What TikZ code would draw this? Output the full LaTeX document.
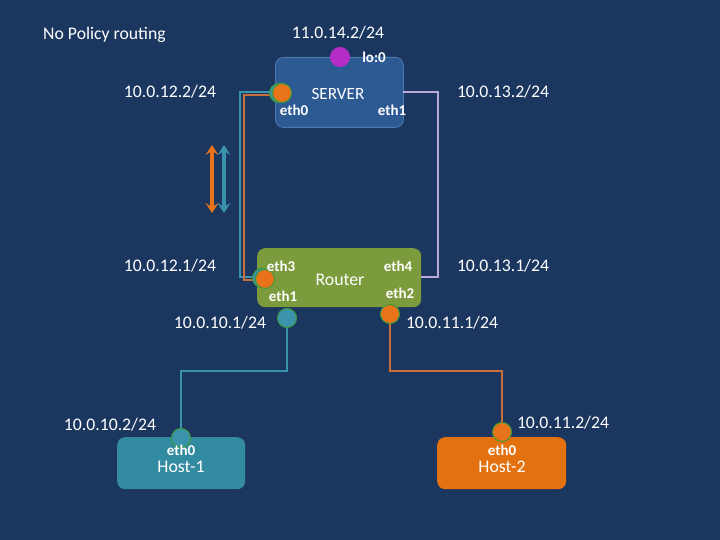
\documentclass[tikz,border=0pt]{standalone}
\usepackage{fontspec}
\setmainfont{Carlito}
\usetikzlibrary{arrows.meta}
\definecolor{bg}{HTML}{1B365F}
\definecolor{srvfill}{HTML}{2D5A93}
\definecolor{srvline}{HTML}{4C79B0}
\definecolor{rtr}{HTML}{7C9B3C}
\definecolor{hostA}{HTML}{338BA1}
\definecolor{hostB}{HTML}{E3710F}
\definecolor{tealc}{HTML}{3A92AD}
\definecolor{orng}{HTML}{E8731A}
\definecolor{orngline}{HTML}{C9703A}
\definecolor{lav}{HTML}{B9A9D6}
\definecolor{mag}{HTML}{B52CC4}
\definecolor{ring}{HTML}{3D9B3A}
\tikzset{
  boxs/.style={rounded corners=8pt, minimum width=#1, anchor=north west, inner sep=0pt},
  portc/.style={circle, minimum size=19pt, inner sep=0pt, draw=ring, line width=1pt},
  ipt/.style={text=white, font=\fontsize{17.7}{20}\selectfont, inner sep=0pt},
  lblt/.style={text=white, font=\bfseries\fontsize{15}{17}\selectfont, inner sep=0pt},
  nmt/.style={text=white, font=\fontsize{17.8}{20}\selectfont, inner sep=0pt},
  wire/.style={line width=1.8pt},
  dbl/.style={line width=3.2pt, {Stealth[length=10pt,width=13pt,inset=4pt]}-{Stealth[length=10pt,width=13pt,inset=4pt]}}
}
\begin{document}
\begin{tikzpicture}[x=1pt,y=-1pt]
\fill[bg] (0,0) rectangle (720,540);
\useasboundingbox (0,0) rectangle (720,540);

\node[ipt, anchor=west] (title) at (43,35) {No Policy routing};

% boxes
\node[boxs=128pt, minimum height=70pt, fill=srvfill, draw=srvline, line width=0.8pt] (srv) at (275,57) {};
\node[nmt, font=\fontsize{17.2}{19}\selectfont] (srvname) at (338,94) {SERVER};
\node[boxs=164pt, minimum height=59pt, fill=rtr] (rtr) at (257,248) {};
\node[nmt] (rtrname) at (340,280) {Router};
\node[boxs=128pt, minimum height=52pt, fill=hostA] (h1) at (117,437) {};
\node[nmt] (h1name) at (181,467) {Host-1};
\node[boxs=129pt, minimum height=52pt, fill=hostB] (h2) at (437,437) {};
\node[nmt] (h2name) at (502,467) {Host-2};

% wires
\coordinate (sA) at (272,92);
\coordinate (sB) at (274,95);
\coordinate (rA) at (258,277);
\coordinate (rB) at (262,280);
\draw[wire, tealc] (sA) -| (240,277) -- (rA);
\draw[wire, orngline] (sB) -| (244,280) -- (rB);
\coordinate (s1) at (403,92);
\coordinate (r4) at (421,277);
\draw[wire, lav] (s1) -| (438,277) -- (r4);

% ports
\node[portc, fill=mag, draw=mag] (lo) at (340,57) {};
\node[portc, fill=tealc] (seth0a) at (279,93) {};
\node[portc, fill=orng] (seth0b) at (282,93) {};
\node[portc, fill=tealc] (reth3a) at (262,278) {};
\node[portc, fill=orng] (reth3b) at (265,279) {};
\node[portc, fill=tealc] (reth1) at (287,318) {};
\node[portc, fill=orng] (reth2) at (390,314) {};
\node[portc, fill=tealc] (heth0a) at (181,438) {};
\node[portc, fill=orng] (heth0b) at (502,432) {};

\draw[wire, tealc] (reth1) -- (287,371) -| (heth0a);
\draw[wire, orngline] (reth2) -- (390,371) -| (heth0b);

% interface labels
\node[lblt] (llo) at (374,57) {lo:0};
\node[lblt] (ls0) at (294,110) {eth0};
\node[lblt] (ls1) at (392,110) {eth1};
\node[lblt] (lr3) at (281,266) {eth3};
\node[lblt] (lr4) at (398,266) {eth4};
\node[lblt] (lr1) at (283,296) {eth1};
\node[lblt] (lr2) at (400,293) {eth2};
\node[lblt] (lh1) at (181,450) {eth0};
\node[lblt] (lh2) at (502,450) {eth0};

% addresses
\node[ipt] (a1) at (338,33) {11.0.14.2/24};
\node[ipt] (a2) at (170,92) {10.0.12.2/24};
\node[ipt] (a3) at (503,92) {10.0.13.2/24};
\node[ipt] (a4) at (170,266) {10.0.12.1/24};
\node[ipt] (a5) at (503,266) {10.0.13.1/24};
\node[ipt] (a6) at (220,323) {10.0.10.1/24};
\node[ipt] (a7) at (452,323) {10.0.11.1/24};
\node[ipt] (a8) at (110,425) {10.0.10.2/24};
\node[ipt] (a9) at (563,423) {10.0.11.2/24};

% arrows
\coordinate (oT) at (212,145);
\coordinate (oB) at (212,213);
\coordinate (tT) at (224,145);
\coordinate (tB) at (224,213);
\draw[dbl, orng] (oT) -- (oB);
\draw[dbl, tealc] (tT) -- (tB);
\end{tikzpicture}
\end{document}
